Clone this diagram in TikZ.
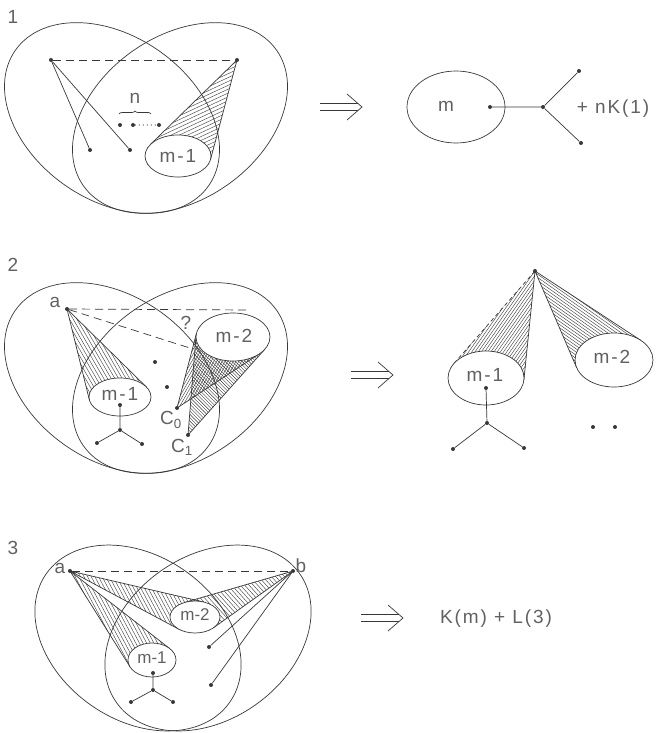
\documentclass[tikz,border=0pt]{standalone}
\usepackage{fontspec}
\setmainfont{Liberation Sans}
\usetikzlibrary{decorations.pathreplacing}
\definecolor{ink}{gray}{0.22}
\definecolor{txt}{gray}{0.38}
\tikzset{
  ln/.style={draw=ink, line width=0.7pt},
  dsh/.style={ln, dash pattern=on 8pt off 5pt},
  sdsh/.style={ln, dash pattern=on 4pt off 3pt},
  hl/.style={draw=ink, line width=0.4pt},
  bullet/.style={circle, fill=ink, inner sep=0pt, minimum size=4pt},
  lbl/.style={text=txt, font=\fontsize{19}{22}\selectfont\addfontfeature{LetterSpace=10}, inner sep=0pt},
  blob/.style={ln, fill=white},
  impl/.pic={\draw[ln] (-21,-3.5) -- (17,-3.5) (-21,3.5) -- (17,3.5) (6,-13) -- (21,0) -- (6,13);}
}
% tangent points from (#6,#7) to ellipse centre (#2,#3), radii #4,#5
\newcommand{\tangentpts}[7]{%
  \pgfmathsetmacro{\tgU}{(#6-(#2))/(#4)}%
  \pgfmathsetmacro{\tgV}{(#7-(#3))/(#5)}%
  \pgfmathsetmacro{\tgP}{atan2(\tgV,\tgU)}%
  \pgfmathsetmacro{\tgA}{acos(1/sqrt(\tgU*\tgU+\tgV*\tgV))}%
  \coordinate (#1-1) at ({#2+#4*cos(\tgP+\tgA)},{#3+#5*sin(\tgP+\tgA)});%
  \coordinate (#1-2) at ({#2+#4*cos(\tgP-\tgA)},{#3+#5*sin(\tgP-\tgA)});%
}
% hatching: #1 clip path, #2 angle, #3 spacing, #4 centre, #5 half length
\newcommand{\hatchfill}[5]{%
  \begin{scope}
    \clip #1;
    \foreach \k in {-55,...,55}
      \draw[hl] (#4) ++({#2+90}:{\k*#3}) ++(#2:-#5) -- ++(#2:{2*#5});
  \end{scope}}
\begin{document}
\begin{tikzpicture}[x=1pt,y=-1pt]
\useasboundingbox (0,0) rectangle (656,733);

%================ panel 1 ================
\node[lbl] (L1) at (13,17) {1};
\draw[ln, rotate around={-35:(112,118)}] (112,118) ellipse [x radius=118pt, y radius=82pt];
\draw[ln, rotate around={35:(180,118)}] (180,118) ellipse [x radius=118pt, y radius=82pt];
\node[bullet] (a1) at (51,60) {};
\node[bullet] (b1) at (237,60) {};
\draw[dsh] (a1) -- (b1);
\node[bullet] (p11) at (90,150) {};
\node[bullet] (p12) at (130,150) {};
\draw[ln] (a1) -- (p11);
\draw[ln] (a1) -- (p12);
\node[bullet] (n1) at (120,125) {};
\node[bullet] (n2) at (133,125) {};
\node[bullet] (n3) at (159,125) {};
\draw[draw=ink, line width=1.3pt, line cap=round, dash pattern=on 0pt off 4pt] (n2) -- (n3);
\node[lbl] (nlab) at (135,98) {n};
\draw[ln, decorate, decoration={brace, amplitude=3pt}] (119,114) -- (151,114);
\tangentpts{t1}{178}{156}{33}{21}{237}{60}
\hatchfill{(b1.center) -- (t1-1) -- (t1-2) -- cycle}{-25}{3.5}{200,110}{140}
\draw[ln] (t1-1) -- (b1.center) -- (t1-2);
\draw[blob] (178,156) ellipse [x radius=33pt, y radius=21pt];
\node[lbl] (m1a) at (178,156) {m-1};

\pic at (341,107) {impl};
\draw[ln] (456,107) ellipse [x radius=49pt, y radius=36pt];
\node[lbl] (mm) at (446,106) {m};
\node[bullet] (r1) at (490,107) {};
\node[bullet] (r2) at (543,107) {};
\node[bullet] (r3) at (579,71) {};
\node[bullet] (r4) at (581,143) {};
\draw[ln] (r1) -- (r2) (r2) -- (r3) (r2) -- (r4);
\node[lbl] (nk) at (613,109) {+ nK(1)};

%================ panel 2 ================
\node[lbl] (L2) at (13,265) {2};
\draw[ln, rotate around={-35:(112,378)}] (112,378) ellipse [x radius=118pt, y radius=82pt];
\draw[ln, rotate around={35:(180,378)}] (180,378) ellipse [x radius=118pt, y radius=82pt];
\node[bullet] (a2) at (67,309) {};
\node[lbl] (alab2) at (55,302) {a};
\coordinate (e2) at (250,310);
\coordinate (e3) at (193,349);
\draw[dsh] (a2) -- (e2);
\draw[dsh] (a2) -- (e3);
\node[lbl] (q) at (186,323) {?};
\node[bullet] (c0) at (177,408) {};
\node[bullet] (c1) at (188,435) {};
\tangentpts{t2}{120}{397}{31}{19}{67}{309}
\tangentpts{t3}{233}{337}{37}{24}{177}{408}
\tangentpts{t4}{233}{337}{37}{24}{188}{435}
\hatchfill{(a2.center) -- (t2-1) -- (t2-2) -- cycle}{60}{3.2}{105,355}{120}
\hatchfill{(c0.center) -- (t3-1) -- (t3-2) -- cycle}{-60}{2.4}{220,370}{120}
\hatchfill{(c1.center) -- (t4-1) -- (t4-2) -- cycle}{45}{2.4}{220,380}{120}
\draw[ln] (t2-1) -- (a2.center) -- (t2-2);
\draw[ln] (t3-1) -- (c0.center) -- (t3-2);
\draw[ln] (t4-1) -- (c1.center) -- (t4-2);
\draw[blob] (120,397) ellipse [x radius=31pt, y radius=19pt];
\node[lbl] (m1b) at (120,394) {m-1};
\draw[blob] (233,337) ellipse [x radius=37pt, y radius=24pt];
\node[lbl] (m2b) at (234,336) {m-2};
\node[bullet] (s1) at (120,405) {};
\node[bullet] (s2) at (120,430) {};
\node[bullet] (s3) at (97,443) {};
\node[bullet] (s4) at (142,444) {};
\draw[ln] (s1) -- (s2) (s2) -- (s3) (s2) -- (s4);
\node[bullet] (d1) at (155,362) {};
\node[bullet] (d2) at (167,387) {};
\node[lbl] (c0lab) at (171,420) {C\textsubscript{0}};
\node[lbl] (c1lab) at (182,447) {C\textsubscript{1}};

\pic at (372,375) {impl};
\node[bullet] (ap) at (535,271) {};
\tangentpts{t5}{486}{378}{38}{27}{535}{271}
\tangentpts{t6}{614}{360}{39}{27}{535}{271}
\hatchfill{(ap.center) -- (t5-1) -- (t5-2) -- cycle}{-55}{2.6}{510,320}{120}
\hatchfill{(ap.center) -- (t6-1) -- (t6-2) -- cycle}{35}{2.6}{575,310}{120}
\draw[sdsh] (ap.center) -- (t5-2);
\draw[ln] (ap.center) -- (t5-1);
\draw[ln] (t6-1) -- (ap.center) -- (t6-2);
\draw[blob] (486,378) ellipse [x radius=38pt, y radius=27pt];
\node[lbl] (m1c) at (485,375) {m-1};
\draw[blob] (614,360) ellipse [x radius=39pt, y radius=27pt];
\node[lbl] (m2c) at (612,357) {m-2};
\node[bullet] (u1) at (486,388) {};
\node[bullet] (u2) at (487,423) {};
\node[bullet] (u3) at (453,449) {};
\node[bullet] (u4) at (524,448) {};
\draw[ln] (u1) -- (u2) (u2) -- (u3) (u2) -- (u4);
\node[bullet] (v1) at (593,427) {};
\node[bullet] (v2) at (615,427) {};

%================ panel 3 ================
\node[lbl] (L3) at (13,548) {3};
\draw[ln, rotate around={-35:(138,638)}] (138,638) ellipse [x radius=112pt, y radius=82pt];
\draw[ln, rotate around={35:(208,638)}] (208,638) ellipse [x radius=112pt, y radius=82pt];
\node[bullet] (a3) at (70,571) {};
\node[bullet] (b3) at (293,571) {};
\node[lbl] (alab3) at (60,568) {a};
\node[lbl] (blab3) at (301,566) {b};
\draw[dsh] (a3) -- (b3);
\tangentpts{t7}{152}{660}{24}{17}{70}{571}
\tangentpts{t8}{195}{617}{25}{16}{70}{571}
\tangentpts{t9}{195}{617}{25}{16}{293}{571}
\hatchfill{(a3.center) -- (t7-1) -- (t7-2) -- cycle}{62}{3.2}{110,615}{120}
\hatchfill{(a3.center) -- (t8-1) -- (t8-2) -- cycle}{62}{3.2}{130,595}{120}
\hatchfill{(b3.center) -- (t9-1) -- (t9-2) -- cycle}{48}{3.2}{245,595}{120}
\draw[ln] (t7-1) -- (a3.center) -- (t7-2);
\draw[ln] (t8-1) -- (a3.center) -- (t8-2);
\draw[ln] (t9-1) -- (b3.center) -- (t9-2);
\node[bullet] (w1) at (209,647) {};
\node[bullet] (w2) at (211,685) {};
\draw[ln] (b3) -- (w1);
\draw[ln] (b3) -- (w2);
\draw[blob] (152,660) ellipse [x radius=24pt, y radius=17pt];
\node[lbl, font=\fontsize{17}{20}\selectfont] (m1d) at (152,658) {m-1};
\draw[blob] (195,617) ellipse [x radius=25pt, y radius=16pt];
\node[lbl, font=\fontsize{17}{20}\selectfont] (m2d) at (195,615) {m-2};
\node[bullet] (x1) at (153,673) {};
\node[bullet] (x2) at (153,690) {};
\node[bullet] (x3) at (131,702) {};
\node[bullet] (x4) at (173,702) {};
\draw[ln] (x1) -- (x2) (x2) -- (x3) (x2) -- (x4);

\pic at (382,618) {impl};
\node[lbl] (km) at (496,619) {K(m) + L(3)};
\end{tikzpicture}
\end{document}
